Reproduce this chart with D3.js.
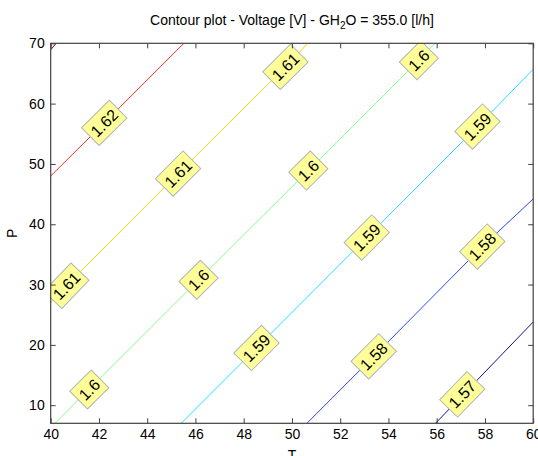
<!DOCTYPE html>
<html><head><meta charset="utf-8">
<script src="https://cdn.jsdelivr.net/npm/d3@7"></script>
<style>
body{margin:0;background:#fff}
svg{display:block}
text{font-family:"Liberation Sans",Arial,Helvetica,sans-serif}
</style>
</head><body><svg id="c" width="538" height="456"></svg>
<script>
// ---- data ----
const titleMain = "Contour plot - Voltage [V] - GH";
const titleSub = "2";
const titleEnd = "O = 355.0 [l/h]";
const xLabel = "T";
const yLabel = "P";
const xTicks = [40,42,44,46,48,50,52,54,56,58,60];
const yTicks = [10,20,30,40,50,60,70];
const levels = [1.57,1.58,1.59,1.6,1.61,1.62,1.63];
const levelColors = ["#10109a","#2848ff","#20e0ff","#88ff88","#ffcc10","#ff3020","#900000"];
// contour polylines as [T, P] points
const line157 = [[55.95,7],[57.06,11.6],[60,23.8]];
const line158 = [[50.62,7],[53.39,18.1],[57.89,36.3],[60,44.2]];
const line159 = [[45.41,7],[48.53,19.5],[53.1,37.8],[57.69,56.2],[60,65.7]];
const line160 = [[40.18,7],[41.55,12.5],[46.13,30.8],[50.68,48.9],[55.26,67.2],[55.92,70]];
const line161 = [[40,27.1],[40.65,29.8],[45.28,48.4],[49.73,66.1],[50.66,70]];
const line162 = [[40,48.0],[42.22,56.8],[45.52,70]];
const line163 = [[40,68.9],[40.22,70]];
const contourLines = [line157,line158,line159,line160,line161,line162,line163];
// inline labels: level, T, P
const labelLevel = [1.62, 1.61,1.61,1.61, 1.6,1.6,1.6,1.6, 1.59,1.59,1.59, 1.58,1.58, 1.57];
const labelT =     [42.22, 40.65,45.28,49.73, 41.6,46.13,50.68,55.26, 48.53,53.1,57.69, 53.39,57.89, 57.06];
const labelP =     [56.8, 29.8,48.4,66.1, 12.6,30.8,48.9,67.2, 19.5,37.8,56.2, 18.1,36.3, 11.8];

// ---- drawing ----
const svg = d3.select("#c");
const L = 50.7, R = 533.2, T = 43.3, B = 423.3;
const x = d3.scaleLinear().domain([40,60]).range([L,R]);
const y = d3.scaleLinear().domain([7,70]).range([B,T]);

svg.append("defs").append("clipPath").attr("id","pa")
  .append("rect").attr("x",L).attr("y",T).attr("width",R-L).attr("height",B-T);

const plot = svg.append("g").attr("clip-path","url(#pa)");
const lineGen = d3.line().x(d=>x(d[0])).y(d=>y(d[1]));

contourLines.forEach((pts,i)=>{
  plot.append("path").attr("d",lineGen(pts)).attr("fill","none")
    .attr("stroke",levelColors[i]).attr("stroke-width",1);
});

function angleAt(level, t){
  const pts = contourLines[levels.indexOf(level)];
  let a = pts[0], b = pts[pts.length-1];
  for(let k=0;k<pts.length-1;k++){ if(t>=pts[k][0] && t<=pts[k+1][0]){a=pts[k];b=pts[k+1];break;} }
  return Math.atan2(y(b[1])-y(a[1]), x(b[0])-x(a[0]))*180/Math.PI;
}

labelLevel.forEach((lv,i)=>{
  const cx = x(labelT[i]), cy = y(labelP[i]);
  const g = plot.append("g").attr("transform",`translate(${cx},${cy}) rotate(${angleAt(lv,labelT[i])})`);
  const rect = g.append("rect");
  const t = g.append("text").text(String(lv)).attr("text-anchor","middle")
    .attr("dy","0.36em").attr("font-size",16).attr("fill","#000");
  const w = t.node().getComputedTextLength() + 8;
  const h = 25;
  rect.attr("x",-w/2).attr("y",-h/2).attr("width",w).attr("height",h)
    .attr("fill","#ffff99").attr("stroke","#b3b3b3").attr("stroke-width",1);
});

// axes
const axCol = "#404040";
const gx = svg.append("g").attr("transform",`translate(0,${B})`)
  .call(d3.axisBottom(x).tickValues(xTicks).tickSizeInner(-5).tickSizeOuter(0).tickPadding(6));
const gxt = svg.append("g").attr("transform",`translate(0,${T})`)
  .call(d3.axisTop(x).tickValues(xTicks).tickSizeInner(-5).tickSizeOuter(0).tickFormat(""));
const gy = svg.append("g").attr("transform",`translate(${L},0)`)
  .call(d3.axisLeft(y).tickValues(yTicks).tickSizeInner(-5).tickSizeOuter(0).tickPadding(6));
const gyr = svg.append("g").attr("transform",`translate(${R},0)`)
  .call(d3.axisRight(y).tickValues(yTicks).tickSizeInner(-5).tickSizeOuter(0).tickFormat(""));
[gx,gxt,gy,gyr].forEach(g=>{
  g.select(".domain").remove();
  g.selectAll("line").attr("stroke",axCol);
  g.selectAll("text").attr("font-family",'"Liberation Sans",Arial,sans-serif').attr("font-size",14).attr("fill","#000");
});
svg.append("rect").attr("x",L).attr("y",T).attr("width",R-L).attr("height",B-T)
  .attr("fill","none").attr("stroke",axCol).attr("stroke-width",1.2);

// title
const tt = svg.append("text").attr("x",(L+R)/2).attr("y",25).attr("text-anchor","middle")
  .attr("font-size",14).attr("fill","#000");
tt.append("tspan").text(titleMain);
tt.append("tspan").text(titleSub).attr("font-size",10).attr("dy",4);
tt.append("tspan").text(titleEnd).attr("dy",-4);

svg.append("text").attr("x",(L+R)/2).attr("y",460).attr("text-anchor","middle")
  .attr("font-size",14).text(xLabel);
svg.append("text").attr("transform",`translate(17,${(T+B)/2}) rotate(-90)`)
  .attr("text-anchor","middle").attr("font-size",14).text(yLabel);
</script></body></html>
